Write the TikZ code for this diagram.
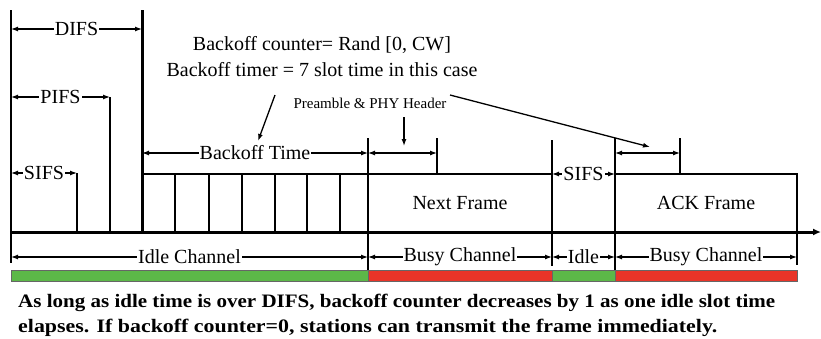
\documentclass[tikz,border=0pt]{standalone}
\usepackage{fontspec}
\setmainfont{Liberation Serif}
\usepackage{xcolor}
\usepackage{graphicx}
\usetikzlibrary{arrows.meta}

\definecolor{idlegreen}{RGB}{92,184,72}
\definecolor{busyred}{RGB}{233,52,40}

\begin{document}
\begin{tikzpicture}[x=1pt,y=-1pt,
  >={Latex[length=7pt,width=5pt]},
  lbl/.style={fill=white,inner sep=1pt,font=\fontsize{20}{22}\selectfont},
  dim/.style={<->,line width=1.2pt},
  wall/.style={line width=2pt},
  slotbox/.style={line width=1.4pt},
  bar/.style={draw=black!60,line width=0.6pt}]

\useasboundingbox (0,0) rectangle (821,338);

% --- IFS markers ---
\coordinate (origin) at (11,10);
\coordinate (originLow) at (11,263);
\coordinate (sifsTop) at (77,173);
\coordinate (sifsBot) at (77,232);
\coordinate (pifsTop) at (110,97);
\coordinate (pifsBot) at (110,232);
\coordinate (difsTop) at (142,10);
\coordinate (difsBot) at (142,232);
\draw[wall] (origin) -- (originLow);
\draw[wall] (sifsTop) -- (sifsBot);
\draw[wall] (pifsTop) -- (pifsBot);
\draw[line width=3pt] (difsTop) -- (difsBot);

\coordinate (difsA) at (11,29);
\coordinate (difsB) at (142,29);
\coordinate (pifsA) at (11,97);
\coordinate (pifsB) at (110,97);
\coordinate (sifsA) at (11,173);
\coordinate (sifsB) at (77,173);
\draw[dim] (difsA) -- node[lbl] (difs) {DIFS} (difsB);
\draw[dim] (pifsA) -- node[lbl] (pifs) {PIFS} (pifsB);
\draw[dim] (sifsA) -- node[lbl] (sifs) {SIFS} (sifsB);

% --- Backoff slots ---
\draw[slotbox] (142,174) rectangle (368,232);
\foreach \x in {175,209,242,275,307,340}
  \draw[slotbox] (\x,174) -- (\x,232);

\coordinate (backA) at (142,153);
\coordinate (backB) at (368,153);
\draw[dim] (backA) -- node[lbl] (backoff) {Backoff Time} (backB);

% --- Frames ---
\node[draw,slotbox,outer sep=0pt,minimum width=184pt,minimum height=58pt,
  anchor=north west,font=\fontsize{20}{22}\selectfont] (next) at (368,174) {Next Frame};
\node[draw,slotbox,outer sep=0pt,minimum width=182pt,minimum height=58pt,
  anchor=north west,font=\fontsize{20}{22}\selectfont] (ack) at (615,174) {ACK Frame};

\coordinate (busyTop) at (368,138);
\coordinate (busyLow) at (368,281);
\coordinate (hdrTop) at (437,138);
\coordinate (hdrBot) at (437,174);
\coordinate (sifs2Top) at (552,140);
\coordinate (sifs2Low) at (552,266);
\coordinate (ackTop) at (615,138);
\coordinate (ackLow) at (615,281);
\coordinate (ackHdrTop) at (680,138);
\coordinate (ackHdrBot) at (680,174);
\coordinate (endTop) at (797,232);
\coordinate (endLow) at (797,265);
\draw[wall] (busyTop) -- (busyLow);
\draw[wall] (hdrTop) -- (hdrBot);
\draw[wall] (sifs2Top) -- (sifs2Low);
\draw[wall] (ackTop) -- (ackLow);
\draw[wall] (ackHdrTop) -- (ackHdrBot);
\draw[wall] (endTop) -- (endLow);

\coordinate (hdrA) at (368,153);
\coordinate (hdrB) at (437,153);
\coordinate (ackHdrA) at (615,153);
\coordinate (ackHdrB) at (680,153);
\coordinate (sifs2A) at (552,174);
\coordinate (sifs2B) at (615,174);
\draw[dim] (hdrA) -- (hdrB);
\draw[dim] (ackHdrA) -- (ackHdrB);
\draw[dim] (sifs2A) -- node[lbl] (sifs2) {SIFS} (sifs2B);

% --- Channel axis ---
\coordinate (chanStart) at (11,232);
\coordinate (chanEnd) at (821,232);
\draw[line width=3pt,-{Latex[length=8pt,width=7pt]}] (chanStart) -- (chanEnd);

\coordinate (idleA) at (11,257);
\coordinate (idleB) at (368,257);
\coordinate (busyA) at (368,257);
\coordinate (busyB) at (552,257);
\coordinate (idle2A) at (552,257);
\coordinate (idle2B) at (615,257);
\coordinate (busy2A) at (615,257);
\coordinate (busy2B) at (797,257);
\draw[dim] (idleA) -- node[lbl] (idle) {Idle Channel} (idleB);
\draw[dim] (busyA) -- node[lbl] (busy) {Busy Channel} (busyB);
\draw[dim] (idle2A) -- node[lbl] (idle2) {Idle} (idle2B);
\draw[dim] (busy2A) -- node[lbl] (busy2) {Busy Channel} (busy2B);

% --- Channel state bar ---
\filldraw[bar,fill=idlegreen] (11,270) rectangle (368,281);
\filldraw[bar,fill=busyred] (368,270) rectangle (552,281);
\filldraw[bar,fill=idlegreen] (552,270) rectangle (615,281);
\filldraw[bar,fill=busyred] (615,270) rectangle (797,281);

% --- Notes ---
\node[align=center,font=\fontsize{20}{26}\selectfont] (counter) at (322,57)
  {Backoff counter= Rand [0, CW]\\Backoff timer = 7 slot time in this case};
\coordinate (counterTail) at (275,95);
\coordinate (counterTip) at (258,141);
\draw[->,line width=1.3pt] (counterTail) -- (counterTip);

\node[font=\fontsize{15}{17}\selectfont] (preamble) at (370,103) {Preamble \& PHY Header};
\coordinate (preTail) at (404,117);
\coordinate (preTip) at (404,146);
\coordinate (ackPreTail) at (450,95);
\coordinate (ackPreTip) at (650,147);
\draw[->,line width=1.3pt] (preTail) -- (preTip);
\draw[->,line width=1.3pt] (ackPreTail) -- (ackPreTip);

\node[anchor=base west,inner sep=0pt,font=\fontsize{19}{23}\bfseries] (rule1) at (18,307)
  {\resizebox{757pt}{\height}{As long as idle time is over DIFS, backoff counter decreases by 1 as one idle slot time}};
\node[anchor=base west,inner sep=0pt,font=\fontsize{19}{23}\bfseries] (rule2) at (18,332)
  {\resizebox{699pt}{\height}{elapses. If backoff counter=0, stations can transmit the frame immediately.}};

\end{tikzpicture}
\end{document}
